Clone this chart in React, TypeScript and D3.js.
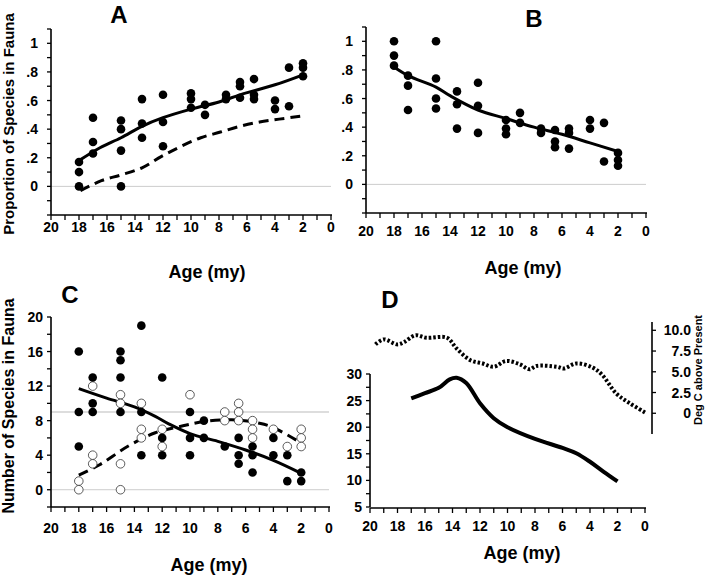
import React from 'react';
import * as d3 from 'd3';

const FONT = "'Liberation Sans', Arial, Helvetica, sans-serif";

// ---- Panel A: proportion of species (filled points) ----
const ptsA: [number, number][] = [
  [18, 0.17], [18, 0.10], [18, 0.0],
  [17, 0.48], [17, 0.31], [17, 0.23],
  [15, 0.46], [15, 0.40], [15, 0.25], [15, 0.0],
  [13.5, 0.61], [13.5, 0.44], [13.5, 0.34],
  [12, 0.64], [12, 0.45], [12, 0.28],
  [10, 0.65], [10, 0.61], [10, 0.55],
  [9, 0.57], [9, 0.50],
  [7.5, 0.64], [7.5, 0.61],
  [6.5, 0.73], [6.5, 0.70], [6.5, 0.62],
  [5.5, 0.75], [5.5, 0.64], [5.5, 0.61],
  [4, 0.60], [4, 0.54],
  [3, 0.83], [3, 0.56],
  [2, 0.86], [2, 0.83], [2, 0.77],
];
const fitA: [number, number][] = [
  [18, 0.18], [16.5, 0.27], [15, 0.34], [13.5, 0.42], [12, 0.48],
  [10, 0.54], [8, 0.59], [6.5, 0.64], [4, 0.71], [2, 0.78],
];
const dashA: [number, number][] = [
  [17.9, -0.03], [16.4, 0.04], [15, 0.08], [13.5, 0.13], [12.1, 0.21],
  [10.7, 0.28], [9.3, 0.34], [7.9, 0.38], [6.5, 0.42], [5.1, 0.45],
  [3.7, 0.47], [2.2, 0.49],
];

// ---- Panel B ----
const ptsB: [number, number][] = [
  [18, 1.0], [18, 0.90], [18, 0.83],
  [17, 0.76], [17, 0.69], [17, 0.52],
  [15, 1.0], [15, 0.74], [15, 0.60], [15, 0.53],
  [13.5, 0.65], [13.5, 0.56], [13.5, 0.39],
  [12, 0.71], [12, 0.55], [12, 0.36],
  [10, 0.45], [10, 0.39], [10, 0.35],
  [9, 0.50], [9, 0.43],
  [7.5, 0.39], [7.5, 0.36],
  [6.5, 0.38], [6.5, 0.30], [6.5, 0.26],
  [5.5, 0.39], [5.5, 0.36], [5.5, 0.25],
  [4, 0.45], [4, 0.39],
  [3, 0.43], [3, 0.16],
  [2, 0.22], [2, 0.17], [2, 0.13],
];
const fitB: [number, number][] = [
  [18, 0.82], [17, 0.76], [15, 0.68], [14, 0.62], [12, 0.52],
  [10, 0.46], [8, 0.40], [6, 0.35], [4, 0.29], [2, 0.23],
];

// ---- Panel C ----
const filledC: [number, number][] = [
  [18, 16], [18, 9], [18, 5],
  [17, 13], [17, 10], [17, 9],
  [15, 16], [15, 15], [15, 13], [15, 9],
  [13.5, 19], [13.5, 9], [13.5, 4],
  [12, 13], [12, 6], [12, 4],
  [10, 9], [10, 6], [10, 4],
  [9, 8], [9, 6],
  [7.5, 5],
  [6.5, 6], [6.5, 4], [6.5, 3],
  [5.5, 5], [5.5, 4], [5.5, 2],
  [4, 6], [4, 4],
  [3, 4], [3, 1],
  [2, 2], [2, 1],
];
const openC: [number, number][] = [
  [18, 1], [18, 0],
  [17, 12], [17, 4], [17, 3],
  [15, 11], [15, 10], [15, 3], [15, 0],
  [13.5, 10], [13.5, 7], [13.5, 6],
  [12, 7], [12, 5],
  [10, 11],
  [7.5, 9], [7.5, 8],
  [6.5, 10], [6.5, 9], [6.5, 8],
  [5.5, 8], [5.5, 7], [5.5, 6],
  [4, 7],
  [3, 5],
  [2, 7], [2, 6], [2, 5],
];
const fitC: [number, number][] = [
  [18, 11.7], [16, 10.6], [14, 9.6], [12.5, 8.5], [11.5, 7.6],
  [10, 6.5], [8, 5.6], [6, 4.6], [4, 3.4], [2, 1.9],
];
const dashC: [number, number][] = [
  [18, 1.7], [16.5, 2.9], [14.5, 5.0], [12.5, 6.6], [10.5, 7.4],
  [9, 7.9], [7, 8.1], [5, 7.7], [4, 7.2], [2, 5.4],
];

// ---- Panel D ----
const richnessD: [number, number][] = [
  [17, 25.4], [16, 26.4], [15, 27.4], [14.2, 29.0], [13.7, 29.3], [13, 28.3],
  [12, 24.5], [11, 21.7], [10, 20.0], [8, 17.8], [6, 16.1], [5, 15.1],
  [4, 13.5], [3, 11.6], [2, 9.8],
];
const tempD: [number, number][] = [
  [19.6, 8.3], [19, 8.9], [18, 8.3], [17.5, 8.6], [16.7, 9.4], [15.9, 9.1],
  [14.4, 9.1], [13.7, 7.8], [12.7, 6.4], [11.8, 6.0], [11, 5.6], [10.1, 6.3],
  [9.1, 5.9], [8.4, 5.3], [7.9, 5.7], [6.4, 5.6], [5.9, 5.4], [5, 6.0],
  [3.8, 5.5], [3.1, 4.6], [2.1, 2.4], [1.1, 1.2], [0, 0.1],
];

const ageTicks = [20, 18, 16, 14, 12, 10, 8, 6, 4, 2, 0];
const ageMinor = d3.range(0, 21, 1);
const propTicks = [0, 0.2, 0.4, 0.6, 0.8, 1];
const propLabels = ['0', '.2', '.4', '.6', '.8', '1'];
const propMinor = d3.range(-0.2, 1.11, 0.1);
const countTicks = [0, 4, 8, 12, 16, 20];
const countMinor = d3.range(-2, 20.1, 2);
const richTicks = [5, 10, 15, 20, 25, 30];
const richMinor = d3.range(5, 30.1, 2.5);
const tempTicks = [0, 2.5, 5, 7.5, 10];
const tempLabels = ['0', '2.5', '5.0', '7.5', '10.0'];

type Sc = d3.ScaleLinear<number, number>;

function XAxis({ x, y0, labelY, title, titleX, titleY }: { x: Sc; y0: number; labelY: number; title: string; titleX: number; titleY: number }) {
  const [a, b] = x.range();
  return (
    <g>
      <line x1={a} x2={b + 1} y1={y0} y2={y0} stroke="#000" strokeWidth={1.6} />
      {ageMinor.map((t) => (
        <line key={t} x1={x(t)} x2={x(t)} y1={y0} y2={y0 + 5} stroke="#000" strokeWidth={1.3} />
      ))}
      {ageTicks.map((t) => (
        <text key={t} x={x(t)} y={labelY} textAnchor="middle" fontSize={14} fontWeight="bold" fontFamily={FONT}>{t}</text>
      ))}
      <text x={titleX} y={titleY} textAnchor="middle" fontSize={18} fontWeight="bold" fontFamily={FONT}>{title}</text>
    </g>
  );
}

function YAxis({ y, x0, ticks, labels, minor, gap }: { y: Sc; x0: number; ticks: number[]; labels: string[]; minor: number[]; gap: number }) {
  const [b, a] = y.range();
  return (
    <g>
      <line x1={x0} x2={x0} y1={a} y2={b} stroke="#000" strokeWidth={1.6} />
      {minor.map((t, i) => (
        <line key={i} x1={x0 - 4} x2={x0} y1={y(t)} y2={y(t)} stroke="#000" strokeWidth={1.3} />
      ))}
      {ticks.map((t, i) => (
        <text key={t} x={x0 - gap} y={y(t)} dy="0.36em" textAnchor="end" fontSize={14} fontWeight="bold" fontFamily={FONT}>{labels[i]}</text>
      ))}
    </g>
  );
}

function Dots({ pts, x, y, open }: { pts: [number, number][]; x: Sc; y: Sc; open?: boolean }) {
  return (
    <g>
      {pts.map((p, i) => (
        <circle key={i} cx={x(p[0])} cy={y(p[1])} r={4.3}
          fill={open ? '#fff' : '#000'} stroke={open ? '#333' : 'none'} strokeWidth={open ? 0.8 : 0} />
      ))}
    </g>
  );
}

function Curve({ pts, x, y, width, dash }: { pts: [number, number][]; x: Sc; y: Sc; width: number; dash?: string }) {
  const gen = d3.line<[number, number]>().x((d) => x(d[0])).y((d) => y(d[1])).curve(d3.curveCatmullRom.alpha(0.5));
  return <path d={gen(pts) || ''} fill="none" stroke="#000" strokeWidth={width} strokeDasharray={dash} />;
}

export default function App() {
  // Panel A scales
  const xA = d3.scaleLinear().domain([20, 0]).range([51, 331]);
  const yA = d3.scaleLinear().domain([-0.2, 1.1]).range([215, 29]);
  // Panel B
  const xB = d3.scaleLinear().domain([20, 0]).range([366, 646]);
  const yB = d3.scaleLinear().domain([-0.2, 1.1]).range([213, 27]);
  // Panel C
  const xC = d3.scaleLinear().domain([20, 0]).range([51, 329]);
  const yC = d3.scaleLinear().domain([-2, 20]).range([507, 317]);
  // Panel D
  const xD = d3.scaleLinear().domain([20, 0]).range([370, 645]);
  const yD = d3.scaleLinear().domain([5, 30]).range([507, 374]);
  const yT = d3.scaleLinear().domain([-2.5, 11]).range([434, 322]);

  const title = (t: string, x: number, y: number) => (
    <text x={x} y={y} textAnchor="middle" fontSize={24} fontWeight="bold" fontFamily={FONT}>{t}</text>
  );

  return (
    <svg width={706} height={575} style={{ position: 'absolute', left: 0, top: 0, background: '#fff' }}>
      <rect width={706} height={575} fill="#fff" />

      {/* Panel A */}
      {title('A', 119, 23)}
      <line x1={xA(20)} x2={xA(0)} y1={yA(0)} y2={yA(0)} stroke="#ccc" strokeWidth={1} />
      <YAxis y={yA} x0={51} ticks={propTicks} labels={propLabels} minor={propMinor} gap={13} />
      <XAxis x={xA} y0={215} labelY={232} title="Age (my)" titleX={207} titleY={278} />
      <Curve pts={dashA} x={xA} y={yA} width={3} dash="10,6" />
      <Curve pts={fitA} x={xA} y={yA} width={3} />
      <Dots pts={ptsA} x={xA} y={yA} />
      <text transform="translate(14,124) rotate(-90)" textAnchor="middle" fontSize={15} fontWeight="bold" fontFamily={FONT}>Proportion of Species in Fauna</text>

      {/* Panel B */}
      {title('B', 534, 27)}
      <line x1={xB(20)} x2={xB(0)} y1={yB(0)} y2={yB(0)} stroke="#ccc" strokeWidth={1} />
      <YAxis y={yB} x0={366} ticks={propTicks} labels={propLabels} minor={propMinor} gap={13} />
      <XAxis x={xB} y0={213} labelY={236} title="Age (my)" titleX={523} titleY={274} />
      <Curve pts={fitB} x={xB} y={yB} width={3} />
      <Dots pts={ptsB} x={xB} y={yB} />

      {/* Panel C */}
      {title('C', 70, 303)}
      <line x1={xC(20)} x2={xC(0)} y1={yC(0)} y2={yC(0)} stroke="#ccc" strokeWidth={1} />
      <line x1={xC(20)} x2={xC(0)} y1={yC(9)} y2={yC(9)} stroke="#bbb" strokeWidth={1} />
      <YAxis y={yC} x0={51} ticks={countTicks} labels={countTicks.map(String)} minor={countMinor} gap={8} />
      <XAxis x={xC} y0={507} labelY={533} title="Age (my)" titleX={209} titleY={571} />
      <Curve pts={dashC} x={xC} y={yC} width={3} dash="10,6" />
      <Curve pts={fitC} x={xC} y={yC} width={3} />
      <Dots pts={openC} x={xC} y={yC} open />
      <Dots pts={filledC} x={xC} y={yC} />
      <text transform="translate(14,406) rotate(-90)" textAnchor="middle" fontSize={16} fontWeight="bold" fontFamily={FONT}>Number of Species in Fauna</text>

      {/* Panel D */}
      {title('D', 390, 308)}
      <YAxis y={yD} x0={370} ticks={richTicks} labels={richTicks.map(String)} minor={richMinor} gap={8} />
      <XAxis x={xD} y0={508} labelY={531} title="Age (my)" titleX={522} titleY={559} />
      <Curve pts={richnessD} x={xD} y={yD} width={4} />
      <Curve pts={tempD} x={xD} y={yT} width={4} dash="2.5,2" />
      {/* right temperature axis */}
      <g>
        <line x1={652} x2={652} y1={yT.range()[1]} y2={yT.range()[0]} stroke="#000" strokeWidth={1.6} />
        {tempTicks.map((t, i) => (
          <g key={t}>
            <line x1={652} x2={656} y1={yT(t)} y2={yT(t)} stroke="#000" strokeWidth={1.3} />
            <text x={691} y={yT(t)} dy="0.36em" textAnchor="end" fontSize={14} fontWeight="bold" fontFamily={FONT}>{tempLabels[i]}</text>
          </g>
        ))}
        <text transform="translate(702,370) rotate(-90)" textAnchor="middle" fontSize={11} fontWeight="bold" fontFamily={FONT}>Deg C above Present</text>
      </g>
    </svg>
  );
}
